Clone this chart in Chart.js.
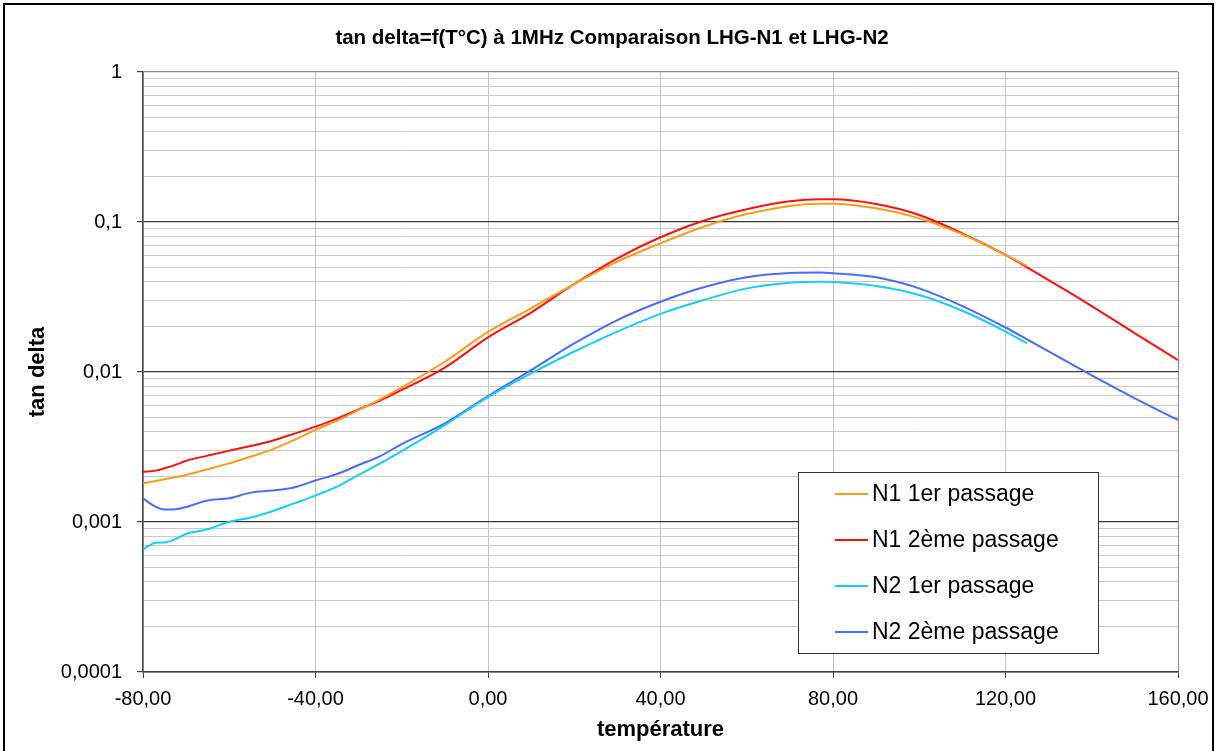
<!DOCTYPE html>
<html>
<head>
<meta charset="utf-8">
<script src="https://cdn.jsdelivr.net/npm/chart.js@4.4.0/dist/chart.umd.min.js"></script>
<style>
  html, body { margin: 0; padding: 0; background: #fff; }
</style>
</head>
<body>
<canvas id="tanDeltaChart" width="1218" height="751"></canvas>
<script>
// temperatures (°C)
const temps = [-80, -77, -75, -72, -70, -65, -60, -55, -50, -45, -40, -35, -30, -25, -20, -10, 0, 10, 20, 30, 40, 50, 60, 70, 77, 80, 90, 100, 110, 120, 125, 130, 140, 150, 160];

// first runs stop at 125 °C, second runs go to 160 °C
const n1First = [0.00181, 0.00188, 0.00193, 0.00200, 0.00206, 0.00225, 0.00246, 0.00273, 0.00305, 0.00351, 0.00411, 0.00474, 0.00558, 0.00658, 0.0079, 0.0117, 0.0185, 0.0266, 0.0386, 0.0544, 0.0721, 0.093, 0.113, 0.128, 0.1325, 0.1324, 0.1234, 0.1057, 0.0828, 0.0603, 0.0509];
const n1Second = [0.00216, 0.0022, 0.00228, 0.00243, 0.00256, 0.00277, 0.00299, 0.00321, 0.00348, 0.00387, 0.00432, 0.00489, 0.00564, 0.00645, 0.00759, 0.0107, 0.017, 0.0249, 0.0386, 0.0573, 0.0791, 0.102, 0.1216, 0.1374, 0.1416, 0.1416, 0.1318, 0.1114, 0.084, 0.0603, 0.0499, 0.041, 0.0275, 0.0181, 0.012];
const n2First = [0.000658, 0.000728, 0.00073, 0.00078, 0.000832, 0.000894, 0.001005, 0.00107, 0.00118, 0.00133, 0.0015, 0.00172, 0.00206, 0.00246, 0.00297, 0.00443, 0.0068, 0.0098, 0.0137, 0.0186, 0.0244, 0.0302, 0.0361, 0.0394, 0.04, 0.0398, 0.0374, 0.0326, 0.0256, 0.0186, 0.0155];
const n2Second = [0.00144, 0.00126, 0.00121, 0.00122, 0.00126, 0.00139, 0.00144, 0.00157, 0.00162, 0.0017, 0.00189, 0.00209, 0.0024, 0.00275, 0.00331, 0.00455, 0.0069, 0.0103, 0.0155, 0.0222, 0.0294, 0.0367, 0.0428, 0.0457, 0.046, 0.0456, 0.0428, 0.0361, 0.0275, 0.0198, 0.0165, 0.0137, 0.0095, 0.00668, 0.00479];

const seriesNames = ['N1 1er passage', 'N1 2ème passage', 'N2 1er passage', 'N2 2ème passage'];
const chartTitle = 'tan delta=f(T°C) à 1MHz Comparaison LHG-N1 et LHG-N2';

// axis ticks
const yDecades = [0.0001, 0.001, 0.01, 0.1, 1];
const yDecadeLabels = ['0,0001', '0,001', '0,01', '0,1', '1'];
const xTicks = [-80, -40, 0, 40, 80, 120, 160];

const FONT = '"Liberation Sans", Arial, sans-serif';

const toPoints = (vals) => vals.map((v, i) => ({x: temps[i], y: v}));

const isDecade = (v) => {
    const l = Math.log10(v);
    return Math.abs(l - Math.round(l)) < 1e-9;
};

// white page, black outer frame and the centred title (centred on the whole sheet, not the plot)
const frame = {
    id: 'frame',
    beforeDraw(chart) {
        const ctx = chart.ctx;
        ctx.save();
        ctx.fillStyle = '#fff';
        ctx.fillRect(0, 0, chart.width, chart.height);
        ctx.strokeStyle = '#000';
        ctx.lineWidth = 2;
        ctx.strokeRect(4, 4, 1209, 800);
        ctx.fillStyle = '#000';
        ctx.font = 'bold 20.5px ' + FONT;
        ctx.textAlign = 'center';
        ctx.textBaseline = 'middle';
        ctx.fillText(chartTitle, 612, 38);
        ctx.restore();
    }
};

// boxed legend inside the plot, lower right
const legendBox = {
    id: 'legendBox',
    afterDraw(chart) {
        const {ctx, chartArea} = chart;
        const x = chartArea.right - 380, y = chartArea.top + 400, w = 300, h = 181;
        ctx.save();
        ctx.fillStyle = '#fff';
        ctx.fillRect(x, y, w, h);
        ctx.strokeStyle = '#333';
        ctx.lineWidth = 1;
        ctx.strokeRect(x + 0.5, y + 0.5, w, h);
        ctx.font = '23px ' + FONT;
        ctx.textBaseline = 'middle';
        chart.data.datasets.forEach((ds, i) => {
            const rowY = y + 22 + i * 46;
            ctx.strokeStyle = ds.borderColor;
            ctx.lineWidth = 2;
            ctx.beginPath();
            ctx.moveTo(x + 37, rowY);
            ctx.lineTo(x + 70, rowY);
            ctx.stroke();
            ctx.fillStyle = '#000';
            ctx.fillText(ds.label, x + 74, rowY + 1);
        });
        ctx.restore();
    }
};

const lineStyle = {
    pointRadius: 0,
    borderWidth: 2,
    fill: false,
    cubicInterpolationMode: 'monotone'
};

const ctx = document.getElementById('tanDeltaChart').getContext('2d');
const tanDeltaChart = new Chart(ctx, {
    type: 'line',
    data: {
        datasets: [
            { label: seriesNames[0], data: toPoints(n1First), borderColor: '#ff9a1a', ...lineStyle }, // orange
            { label: seriesNames[1], data: toPoints(n1Second), borderColor: '#ff1010', ...lineStyle }, // red
            { label: seriesNames[2], data: toPoints(n2First), borderColor: '#19ccff', ...lineStyle }, // cyan
            { label: seriesNames[3], data: toPoints(n2Second), borderColor: '#4a6cff', ...lineStyle }  // blue
        ]
    },
    options: {
        responsive: false,
        animation: false,
        layout: { padding: { left: 0, right: 40, top: 72, bottom: 0 } },
        plugins: {
            legend: { display: false },
            tooltip: { enabled: false },
            title: { display: false }
        },
        scales: {
            x: {
                type: 'linear',
                min: xTicks[0],
                max: xTicks[xTicks.length - 1],
                afterFit(scale) { scale.height = 79; },
                ticks: {
                    stepSize: 40,
                    color: '#000',
                    padding: 9,
                    maxRotation: 0,
                    font: { family: FONT, size: 20 },
                    callback: (v) => v.toFixed(2).replace('.', ',')
                },
                grid: {
                    color: (c) => (c.tick && c.tick.value === 160) ? '#8c8c8c' : '#c4c4c4',
                    tickColor: '#404040',
                    tickLength: 6,
                    lineWidth: 1
                },
                border: { color: '#404040', width: 1.5 },
                title: {
                    display: true,
                    text: 'température',
                    color: '#000',
                    font: { family: FONT, size: 22, weight: 'bold' },
                    padding: { top: 0, bottom: 8 }
                }
            },
            y: {
                type: 'logarithmic',
                min: yDecades[0],
                max: yDecades[yDecades.length - 1],
                afterFit(scale) { scale.width = 143; },
                afterBuildTicks(scale) {
                    const ticks = [];
                    for (let i = 0; i < yDecades.length - 1; i++) {
                        for (let m = 1; m <= 9; m++) {
                            ticks.push({ value: parseFloat((yDecades[i] * m).toPrecision(6)) });
                        }
                    }
                    ticks.push({ value: yDecades[yDecades.length - 1] });
                    scale.ticks = ticks;
                },
                ticks: {
                    autoSkip: false,
                    color: '#000',
                    padding: 15,
                    font: { family: FONT, size: 20 },
                    callback: (v) => {
                        const i = yDecades.indexOf(v);
                        return i >= 0 ? yDecadeLabels[i] : '';
                    }
                },
                grid: {
                    color: (c) => {
                        const v = c.tick && c.tick.value;
                        if (v === 1) return '#8c8c8c';
                        return isDecade(v) ? '#3a3a3a' : '#c8c8c8';
                    },
                    tickColor: (c) => (c.tick && isDecade(c.tick.value)) ? '#404040' : 'rgba(0,0,0,0)',
                    tickLength: 6,
                    lineWidth: (c) => (c.tick && isDecade(c.tick.value)) ? 1.2 : 1
                },
                border: { color: '#404040', width: 1.5 },
                title: {
                    display: true,
                    text: 'tan delta',
                    color: '#000',
                    font: { family: FONT, size: 22, weight: 'bold' },
                    padding: { top: 25, bottom: 0 }
                }
            }
        }
    },
    plugins: [frame, legendBox]
});
</script>
</body>
</html>
